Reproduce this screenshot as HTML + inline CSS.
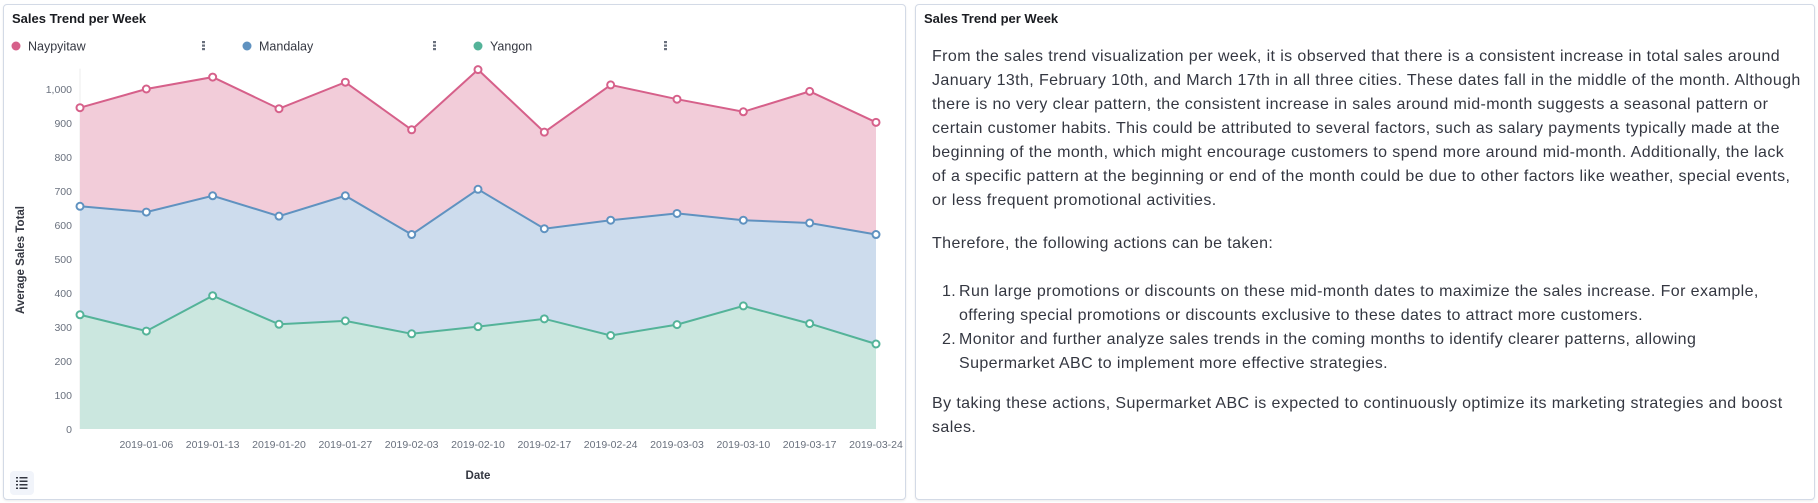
<!DOCTYPE html>
<html><head><meta charset="utf-8"><style>
body{margin:0;width:1818px;height:503px;background:#fff;font-family:"Liberation Sans",sans-serif;overflow:hidden;position:relative}
.panel{position:absolute;top:4px;height:494px;border:1px solid #d3dae6;border-radius:4px;background:#fff;box-shadow:0 1px 2px rgba(0,0,0,.08)}
.ptitle{position:absolute;left:8px;top:6px;font-weight:bold;font-size:13px;color:#1a1c21}
.txt{position:absolute;left:16px;top:40px;font-size:16px;letter-spacing:0.4px;color:#343741;line-height:24px}
.txt div{white-space:nowrap}
.blk{margin:0}
.li{position:relative;padding-left:27px}
.li span{position:absolute;left:10px;top:0}
</style></head><body>
<div class="panel" style="left:3px;width:901px">
<div class="ptitle">Sales Trend per Week</div>
<svg id="chart" width="901" height="494" style="position:absolute;left:0;top:0"></svg>
</div>
<div class="panel" style="left:915px;width:898px">
<div class="ptitle">Sales Trend per Week</div>
<div class="txt">
<div class="blk">
<div>From the sales trend visualization per week, it is observed that there is a consistent increase in total sales around</div>
<div>January 13th, February 10th, and March 17th in all three cities. These dates fall in the middle of the month. Although</div>
<div>there is no very clear pattern, the consistent increase in sales around mid-month suggests a seasonal pattern or</div>
<div>certain customer habits. This could be attributed to several factors, such as salary payments typically made at the</div>
<div>beginning of the month, which might encourage customers to spend more around mid-month. Additionally, the lack</div>
<div>of a specific pattern at the beginning or end of the month could be due to other factors like weather, special events,</div>
<div>or less frequent promotional activities.</div>
</div>
<div class="blk" style="margin-top:19px">Therefore, the following actions can be taken:</div>
<div class="li" style="margin-top:24px"><span>1.</span><div>Run large promotions or discounts on these mid-month dates to maximize the sales increase. For example,</div><div>offering special promotions or discounts exclusive to these dates to attract more customers.</div></div>
<div class="li" style="margin-top:0px"><span>2.</span><div>Monitor and further analyze sales trends in the coming months to identify clearer patterns, allowing</div><div>Supermarket ABC to implement more effective strategies.</div></div>
<div class="blk" style="margin-top:16px"><div>By taking these actions, Supermarket ABC is expected to continuously optimize its marketing strategies and boost</div><div>sales.</div></div>
</div></div>
<script>
const categories=["2018-12-30","2019-01-06","2019-01-13","2019-01-20","2019-01-27","2019-02-03","2019-02-10","2019-02-17","2019-02-24","2019-03-03","2019-03-10","2019-03-17","2019-03-24"];
const naypyitaw=[945,1000,1035,942,1020,880,1057,873,1012,970,933,993,902];
const mandalay=[655,638,686,626,686,572,705,589,614,634,614,606,572];
const yangon=[336,288,392,308,318,280,301,324,275,307,362,310,250];
const yTicks=[0,100,200,300,400,500,600,700,800,900,1000];
const seriesNames=["Naypyitaw","Mandalay","Yangon"];
const NS="http://www.w3.org/2000/svg";
const svg=document.getElementById('chart');
const X0=76,X1=872,Y0=424,YK=340/1000;
const x=i=>X0+i*(X1-X0)/(categories.length-1);
const y=v=>Y0-v*YK;
function mk(t,a){const e=document.createElementNS(NS,t);for(const k in a)e.setAttribute(k,a[k]);svg.appendChild(e);return e;}
let ax=mk('line',{x1:X0,x2:X0,y1:y(1060),y2:Y0,stroke:'#eee'});


yTicks.forEach(v=>{const t=mk('text',{x:X0-8,y:y(v)+4,'text-anchor':'end','font-size':10.5,fill:'#69707d'});t.textContent=v.toLocaleString('en-US');

});
categories.forEach((c,i)=>{if(i==0)return;const t=mk('text',{x:x(i),y:443,'text-anchor':'middle','font-size':10.5,fill:'#69707d'});t.textContent=c;

});
const series=[[naypyitaw,'#d6608a','#f2ccd9'],[mandalay,'#6092c0','#cddced'],[yangon,'#54b399','#cbe7df']];
series.forEach(([d,lc,fc],si)=>{
 let p='M'+x(0)+','+Y0;d.forEach((v,i)=>p+='L'+x(i)+','+y(v));p+='L'+x(d.length-1)+','+Y0+'Z';
 const a=mk('path',{d:p,fill:fc});
 
 
 const l=mk('polyline',{points:d.map((v,i)=>x(i)+','+y(v)).join(' '),fill:'none',stroke:lc,'stroke-width':2});
 
 
});
series.forEach(([d,lc],si)=>d.forEach((v,i)=>{const c=mk('circle',{cx:x(i),cy:y(v),r:3.5,fill:'#fff',stroke:lc,'stroke-width':2});
 
 }));
seriesNames.forEach((n,i)=>{const lx=12+i*231;
 const c=mk('circle',{cx:lx,cy:41,r:4.5,fill:series[i][1]});
 
 
 const t=mk('text',{x:lx+12,y:45.5,'font-size':12.5,fill:'#343741'});t.textContent=n;
 
 
 for(let k=0;k<3;k++){const r=mk('rect',{x:lx+186,y:36+k*3.5,width:3,height:2.2,fill:'#69707d'});
 
 }
});
const yt=mk('text',{x:0,y:0,transform:'translate(20,255) rotate(-90)','text-anchor':'middle','font-size':11.5,'font-weight':'bold',fill:'#343741'});yt.textContent='Average Sales Total';


const xt=mk('text',{x:474,y:474,'text-anchor':'middle','font-size':11.5,'font-weight':'bold',fill:'#343741'});xt.textContent='Date';


const lb=mk('rect',{x:6,y:466,width:24,height:24,rx:4,fill:'#f1f4fa'});


for(let k=0;k<4;k++){mk('rect',{x:12,y:472+k*3.5,width:2,height:1.5,fill:'#343741'});mk('rect',{x:15.5,y:472+k*3.5,width:8,height:1.5,fill:'#343741'});}
</script>
</body></html>
